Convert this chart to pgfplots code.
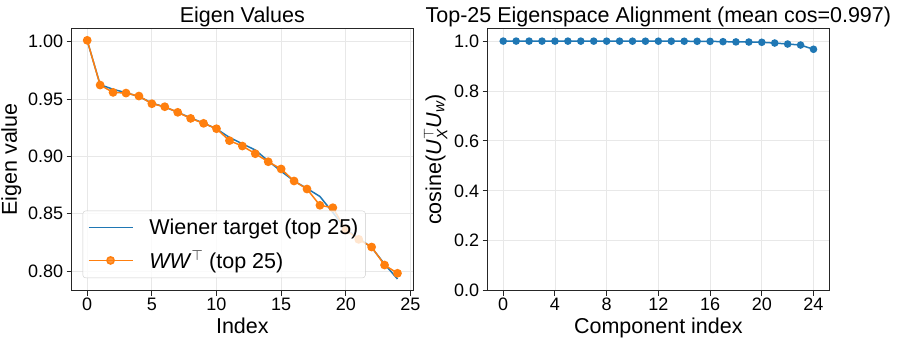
\documentclass[border=0pt]{standalone}
\usepackage{amsmath}
\usepackage{fontspec}
\setmainfont{Liberation Sans}
\usepackage{pgfplots}
\pgfplotsset{compat=1.18}
\definecolor{mblue}{HTML}{1F77B4}
\definecolor{morange}{HTML}{FF7F0E}
\pgfplotsset{
  myax/.style={
    scale only axis, width=341.3bp, height=262.4bp,
    axis line style={black!85, line width=0.9bp},
    tick align=outside, tick pos=left,
    major tick length=5bp,
    tick style={black!85, line width=0.9bp},
    grid=major, grid style={black!9, line width=0.8bp},
    tick label style={font=\fontsize{18bp}{21bp}\selectfont},
    xticklabel style={yshift=1bp},
    label style={font=\fontsize{21.5bp}{24bp}\selectfont},
    title style={font=\fontsize{21.5bp}{24bp}\selectfont, at={(0.5,1)}, anchor=base, yshift=0bp},
    /pgf/number format/assume math mode=true,
    xmin=-1.2, xmax=25.2,
  }
}
\begin{document}
\begin{tikzpicture}
\useasboundingbox (0,0) rectangle (897bp,345bp);
\begin{axis}[myax, at={(71.7bp,54.3bp)}, anchor=south west,
  ymin=0.7828, ymax=1.0117,
  xtick={0,5,10,15,20,25},
  ytick={0.80,0.85,0.90,0.95,1.00},
  yticklabel style={/pgf/number format/fixed, /pgf/number format/fixed zerofill, /pgf/number format/precision=2},
  title={Eigen Values}, xlabel={Index}, ylabel={Eigen value},
  legend style={at={(0.032,0.048)}, anchor=south west, draw=black!20, rounded corners=3bp,
    fill=white, fill opacity=0.8, text opacity=1, font=\fontsize{21.5bp}{24bp}\selectfont,
    inner xsep=5bp, inner ysep=6bp, row sep=11bp, nodes={inner sep=2bp}},
  legend cell align=left,
  legend image code/.code={
    \draw[mark repeat=2, mark phase=2, #1, line width=1.5bp] plot coordinates {(0bp,0bp) (22bp,0bp) (44bp,0bp)};
    \path (58bp,0bp);},
]
\addplot[mblue, line width=1.5bp, no marks] coordinates {
(0,1.001) (1,0.9625) (2,0.9585) (3,0.9555) (4,0.9522) (5,0.9465) (6,0.9430) (7,0.9385)
(8,0.9335) (9,0.9290) (10,0.9240) (11,0.9165) (12,0.9110) (13,0.9055) (14,0.8960)
(15,0.8870) (16,0.8785) (17,0.8720) (18,0.8650) (19,0.8510) (20,0.8365) (21,0.8285)
(22,0.8205) (23,0.8060) (24,0.7930)};
\addlegendentry{Wiener target (top 25)}
\addplot[morange, line width=1.5bp, mark=*, mark size=3.6bp, mark options={fill=morange, draw=morange}] coordinates {
(0,1.0012) (1,0.9622) (2,0.9558) (3,0.9552) (4,0.9526) (5,0.9459) (6,0.9433) (7,0.9384)
(8,0.9331) (9,0.9288) (10,0.9241) (11,0.9137) (12,0.9090) (13,0.9023) (14,0.8953)
(15,0.8890) (16,0.8785) (17,0.8715) (18,0.8573) (19,0.8552) (20,0.8357) (21,0.8276)
(22,0.8209) (23,0.8052) (24,0.7980)};
\addlegendentry{\textit{WW}$^{\top}$ (top 25)}
\end{axis}
\begin{axis}[myax, at={(487.7bp,54.3bp)}, anchor=south west,
  ymin=0, ymax=1.051,
  xtick={0,4,8,12,16,20,24},
  ytick={0,0.2,0.4,0.6,0.8,1.0},
  yticklabel style={/pgf/number format/fixed, /pgf/number format/fixed zerofill, /pgf/number format/precision=1},
  title={Top-25 Eigenspace Alignment (mean cos=0.997)},
  xlabel={Component index},
  ylabel={cosine(\textit{U}$^{\top}_{\text{\itshape X}}$\textit{U}$_{\text{\itshape w}}$)},
]
\addplot[mblue, line width=1.5bp, mark=*, mark size=3bp, mark options={fill=mblue, draw=mblue}] coordinates {
(0,0.9998) (1,0.9998) (2,0.9997) (3,0.9997) (4,0.9997) (5,0.9996) (6,0.9996) (7,0.9996)
(8,0.9995) (9,0.9995) (10,0.9995) (11,0.9994) (12,0.9994) (13,0.9993) (14,0.9992)
(15,0.9990) (16,0.9987) (17,0.9975) (18,0.9965) (19,0.9960) (20,0.9950) (21,0.9920)
(22,0.9880) (23,0.9840) (24,0.9670)};
\end{axis}
\end{tikzpicture}
\end{document}
